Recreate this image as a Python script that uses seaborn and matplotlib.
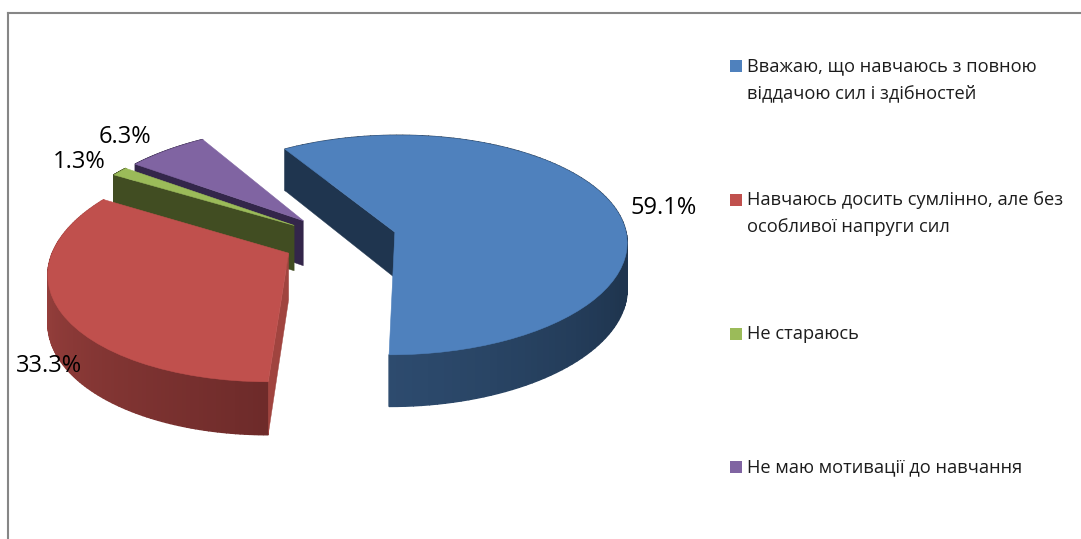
import numpy as np
import matplotlib
matplotlib.use('Agg')
import matplotlib.pyplot as plt
import matplotlib.transforms as mtransforms
from matplotlib.patches import Rectangle
import seaborn as sns

# Data
categories = [
    'Вважаю, що навчаюсь з повною\nвіддачою сил і здібностей',
    'Навчаюсь досить сумлінно, але без\nособливої напруги сил',
    'Не стараюсь',
    'Не маю мотивації до навчання',
]
values = [59.1, 33.3, 1.3, 6.3]

# Office style colours: top, cut face, outer side light -> dark
top_colors = ['#4F81BD', '#C0504D', '#9BBB59', '#8064A2']
face_colors = ['#1F354F', '#A0443F', '#414D22', '#33264A']
side_ramps = [['#2D4B6E', '#1F354F', '#1F354F', '#1F354F'],
              ['#AC4A46', '#6E2B2A'],
              ['#5C7032', '#414D22'],
              ['#4C3B62', '#33264A']]

sns.set_theme(style='white')
plt.rcParams['font.family'] = ['Open Sans', 'DejaVu Sans']

W, H = 1081, 539
fig = plt.figure(figsize=(W / 100, H / 100), dpi=100)
ax = fig.add_axes([8 / W, 0, (W - 8) / W, (H - 13) / H])


# tilted view of the pie plane, result is in picture pixels
class TiltView(mtransforms.Transform):
    input_dims = 2
    output_dims = 2
    has_inverse = False
    persp = 0.118
    vanish_x = 432
    center_x = 340
    base_y = 239.6
    rx = 233
    ry = 110

    def transform_non_affine(self, xy):
        xy = np.asarray(xy, dtype=float)
        w = 1 + self.persp * xy[:, 1]
        px = self.vanish_x + (self.center_x - self.vanish_x + self.rx * xy[:, 0]) / w
        py = self.base_y - self.ry * xy[:, 1] / w
        return np.column_stack([px, py])


view = TiltView()
depth = 46


def drop(xy):
    # same points, moved down to the bottom of the disc
    pts = view.transform(xy)
    w = 1 + view.persp * xy[:, 1]
    low = pts.copy()
    low[:, 1] += depth / w
    return pts, low


wedges, _ = ax.pie(values, explode=[0.244] * 4, startangle=-90.2 + values[0] * 3.6,
                   counterclock=False, colors=top_colors, frame=True,
                   wedgeprops={'linewidth': 0.4})

# back slices first, blue last
for i in [3, 2, 1, 0]:
    wd = wedges[i]
    cx, cy = wd.center
    t1, t2 = wd.theta1, wd.theta2
    wd.set_transform(view + ax.transData)
    wd.set_edgecolor(top_colors[i])
    wd.set_clip_on(False)
    wd.set_zorder(10 + (3 - i) * 3 + 2)
    z = 10 + (3 - i) * 3

    # outer wall, small pieces so that the shade can change
    n = 120
    ramp = sns.blend_palette(side_ramps[i], n)
    th = np.radians(np.linspace(t1, t2, n + 1))
    rim = np.column_stack([cx + np.cos(th), cy + np.sin(th)])
    up, low = drop(rim)
    for k in range(n):
        q = np.vstack([up[k], up[k + 1], low[k + 1], low[k]])
        ax.fill(q[:, 0], q[:, 1], facecolor=ramp[k], edgecolor=ramp[k], lw=1, zorder=z)

    # the cut face that can be seen, centre to rim
    a = np.radians(t2)
    spoke = np.array([[cx, cy], [cx + np.cos(a), cy + np.sin(a)]])
    up, low = drop(spoke)
    q = np.vstack([up[0], up[1], low[1], low[0]])
    ax.fill(q[:, 0], q[:, 1], color=face_colors[i], lw=0.3, zorder=z + 1)

ax.set_aspect('auto')
ax.set_xlim(8, W)
ax.set_ylim(H, 13)
ax.set_xticks([])
ax.set_yticks([])
ax.set_frame_on(True)
sns.despine(ax=ax, top=False, left=False, right=True, bottom=True)
for s in ['top', 'left']:
    ax.spines[s].set_color('#868686')
    ax.spines[s].set_linewidth(1.5)

# percent labels
label_pos = [(630, 208), (16, 366), (53, 162), (99, 137)]
for v, (x, y) in zip(values, label_pos):
    ax.text(x, y, f'{v:.1f}%', fontsize=17, color='black', ha='left', va='center', zorder=40)

# legend, evenly spaced like in the original
legend_y = [66, 200, 334, 467]
for name, col, y in zip(categories, top_colors, legend_y):
    ax.add_patch(Rectangle((730, y - 6), 12, 12, color=col, lw=0))
    ax.text(747, y - 9, name, fontsize=13.15, color='#1c1c1c', ha='left', va='top',
            linespacing=1.65, zorder=40)

fig.savefig('out.png', dpi=100)
